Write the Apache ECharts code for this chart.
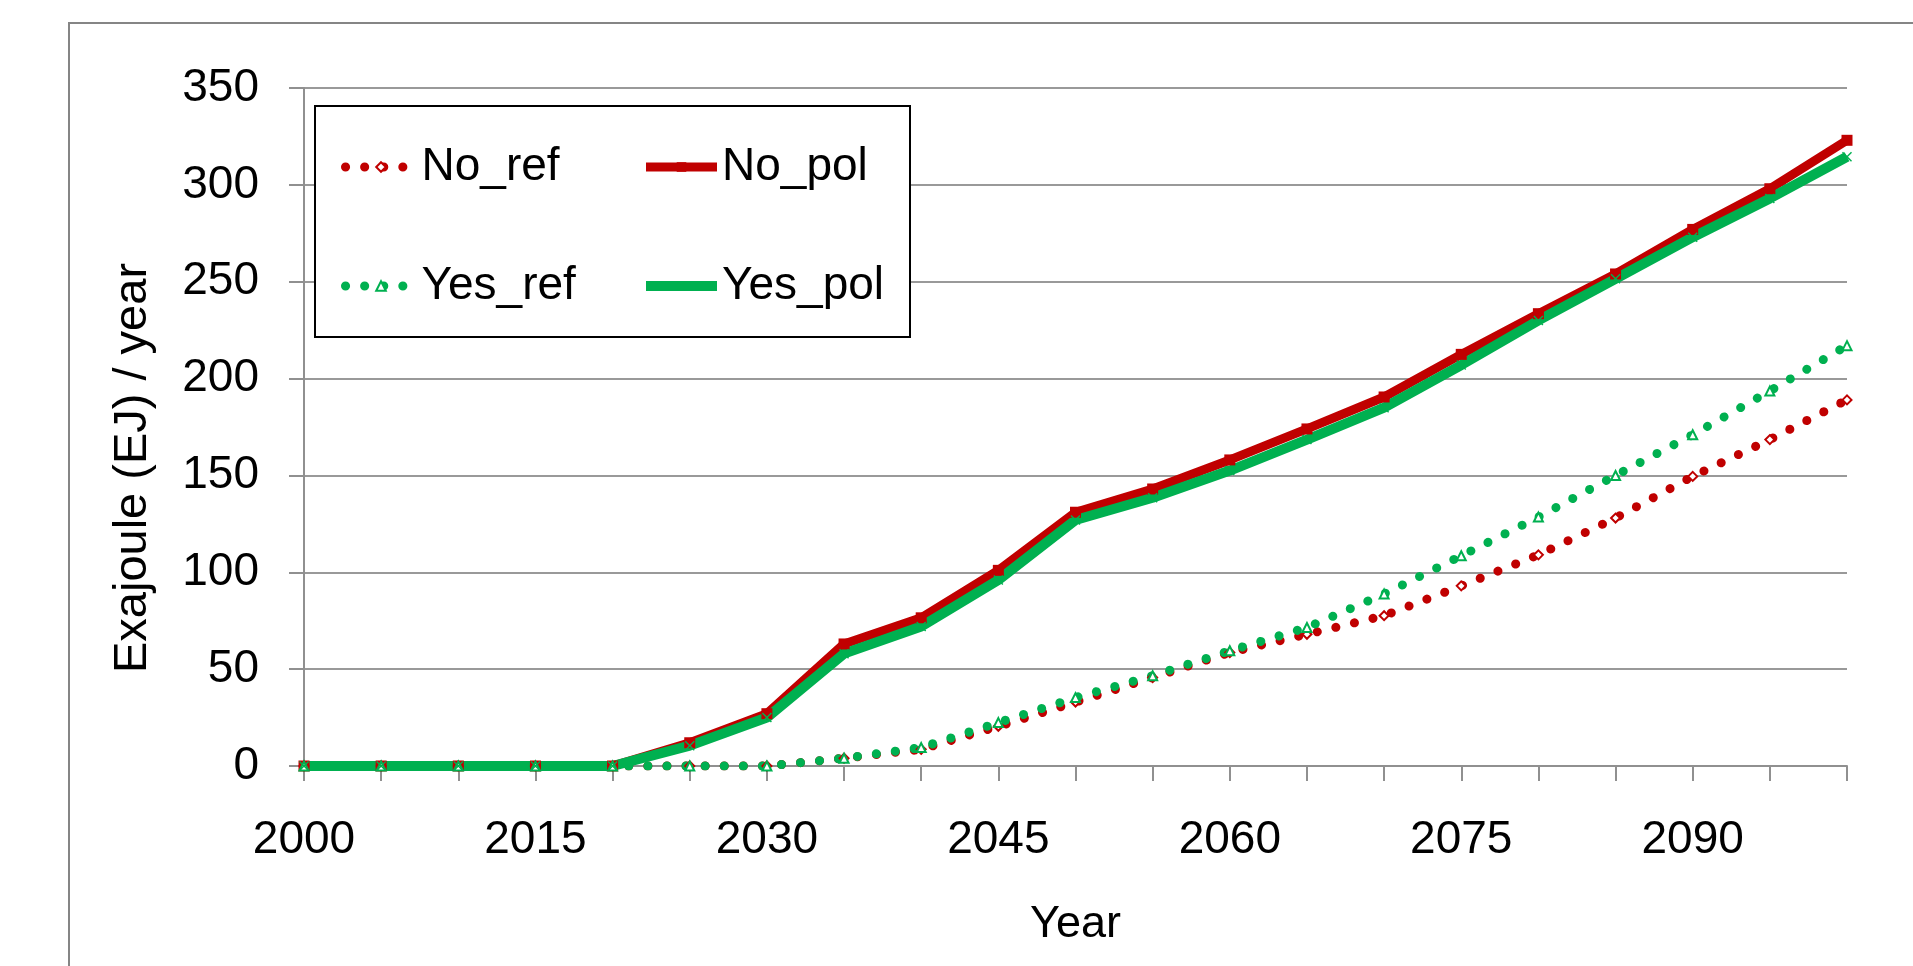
<!DOCTYPE html>
<html>
<head>
<meta charset="utf-8">
<title>Exajoule per year</title>
<script src="https://cdn.jsdelivr.net/npm/echarts@6/dist/echarts.min.js"></script>
<style>
  html, body { margin: 0; padding: 0; background: #fff; }
  #chart { width: 1913px; height: 966px; }
</style>
</head>
<body>
<div id="chart"></div>
<script>
// years on the x axis, one point every 5 years
var years = ['2000', '2005', '2010', '2015', '2020', '2025', '2030', '2035', '2040', '2045', '2050',
  '2055', '2060', '2065', '2070', '2075', '2080', '2085', '2090', '2095', '2100']

// values (EJ / year)
var noRef = [0, 0, 0, 0, 0, 0, 0, 4, 8.6, 20.5, 33, 45.7, 58.6, 68, 77.6, 93, 109, 128, 149.5, 168.5, 189]
var noPol = [0, 0, 0, 0, 0, 12, 27, 63, 76.5, 101, 131, 143, 158, 174, 190.5, 212.5, 233.5, 254, 277, 298, 323]
var yesRef = [0, 0, 0, 0, 0, 0, 0, 4, 9.5, 22.4, 35.3, 46.6, 59.5, 71.5, 88.8, 108.5, 128.5, 150, 171, 193.6, 217]
var yesPol = [0, 0, 0, 0, 0, 10.5, 25, 58, 72, 96, 127, 138.5, 152.5, 168.5, 185, 207, 230, 251.5, 273, 293, 314.5]

var yTicks = { min: 0, max: 350, step: 50 }

var RED = '#C00000'
var GREEN = '#00B050'
var FONT = "'Liberation Sans', Arial, sans-serif"
// small x marker like the excel one
var CROSS = 'path://M0,1L1,0L5,4L9,0L10,1L6,5L10,9L9,10L5,6L1,10L0,9L4,5Z'

var chart = echarts.init(document.getElementById('chart'), null, { renderer: 'canvas' })

function dotted (color) {
  return { color: color, width: 9, type: [0.1, 19], cap: 'round' }
}

var legendText = { color: '#000', fontSize: 46, fontFamily: FONT, lineHeight: 50 }

chart.setOption({
  animation: false,
  backgroundColor: '#fff',
  graphic: [
    {
      // outer chart border (runs off the right and bottom of the picture)
      type: 'rect',
      silent: true,
      z: -1,
      shape: { x: 69, y: 23, width: 2000, height: 2000 },
      style: { fill: 'none', stroke: '#858585', lineWidth: 2 }
    },
    {
      // legend box
      type: 'rect',
      silent: true,
      z: 3,
      shape: { x: 315, y: 106, width: 595, height: 231 },
      style: { fill: '#fff', stroke: '#000', lineWidth: 2 }
    }
  ],
  grid: {
    left: 304,
    right: 66,
    top: 88,
    bottom: 200,
    containLabel: false
  },
  legend: [
    {
      data: ['No_ref', 'Yes_ref'],
      orient: 'vertical',
      left: 336,
      top: 137,
      itemWidth: 71,
      itemHeight: 12,
      itemGap: 69,
      lineStyle: { width: 'inherit' },
      textStyle: legendText,
      selectedMode: false
    },
    {
      data: ['No_pol', 'Yes_pol'],
      orient: 'vertical',
      left: 636,
      top: 137,
      itemWidth: 71,
      itemHeight: 12,
      itemGap: 69,
      lineStyle: { width: 'inherit' },
      textStyle: legendText,
      selectedMode: false
    }
  ],
  xAxis: {
    type: 'category',
    data: years,
    boundaryGap: false,
    name: 'Year',
    nameLocation: 'middle',
    nameGap: 136,
    nameTextStyle: { color: '#000', fontSize: 45, fontFamily: FONT },
    axisLine: { lineStyle: { color: '#909090', width: 2 } },
    axisTick: { show: true, interval: 0, length: 15, lineStyle: { color: '#909090', width: 2 } },
    axisLabel: { interval: 2, margin: 51, color: '#000', fontSize: 46, fontFamily: FONT },
    splitLine: { show: false }
  },
  yAxis: {
    type: 'value',
    min: yTicks.min,
    max: yTicks.max,
    interval: yTicks.step,
    name: 'Exajoule (EJ) / year',
    nameLocation: 'middle',
    nameRotate: 90,
    nameGap: 147,
    nameTextStyle: { color: '#000', fontSize: 47, fontFamily: FONT, padding: [0, 82, 0, 0] },
    axisLine: { show: true, lineStyle: { color: '#909090', width: 2 } },
    axisTick: { show: true, length: 15, lineStyle: { color: '#909090', width: 2 } },
    axisLabel: { margin: 45, color: '#000', fontSize: 46, fontFamily: FONT },
    splitLine: { show: true, lineStyle: { color: '#999', width: 2 } }
  },
  series: [
    {
      name: 'No_ref',
      type: 'line',
      data: noRef,
      symbol: 'emptyDiamond',
      symbolSize: 9,
      itemStyle: { color: RED, borderWidth: 1.5 },
      lineStyle: dotted(RED)
    },
    {
      name: 'No_pol',
      type: 'line',
      data: noPol,
      symbol: 'rect',
      symbolSize: 11,
      itemStyle: { color: RED },
      lineStyle: { color: RED, width: 9 }
    },
    {
      name: 'Yes_ref',
      type: 'line',
      data: yesRef,
      symbol: 'emptyTriangle',
      symbolSize: 9,
      itemStyle: { color: GREEN, borderWidth: 1.5 },
      lineStyle: dotted(GREEN)
    },
    {
      name: 'Yes_pol',
      type: 'line',
      data: yesPol,
      symbol: CROSS,
      symbolSize: 10,
      itemStyle: { color: GREEN },
      lineStyle: { color: GREEN, width: 10 }
    }
  ]
})
</script>
</body>
</html>
